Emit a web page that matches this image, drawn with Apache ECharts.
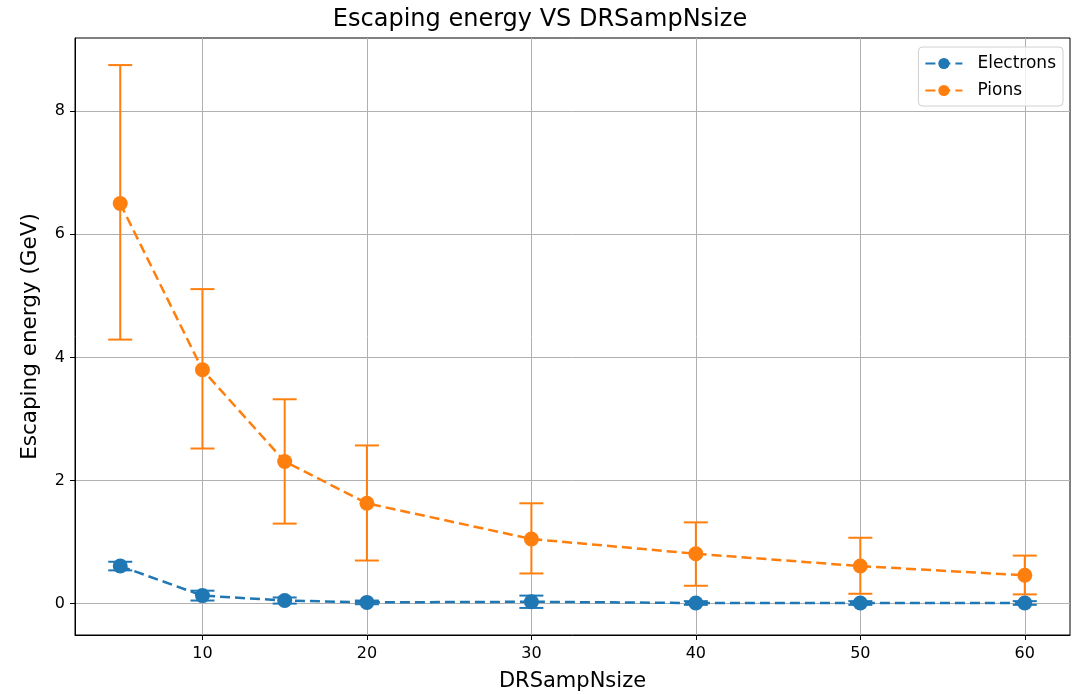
<!DOCTYPE html>
<html>
<head>
<meta charset="utf-8">
<script src="https://cdn.jsdelivr.net/npm/echarts@6/dist/echarts.min.js"></script>
<style>
html,body{margin:0;padding:0;background:#fff;}
#chart{width:1080px;height:694px;}
</style>
</head>
<body>
<div id="chart"></div>
<script>
const sizes = [5, 10, 15, 20, 30, 40, 50, 60];
const electrons = [0.61, 0.13, 0.05, 0.02, 0.03, 0.01, 0.01, 0.01];
const electronsErr = [0.07, 0.08, 0.05, 0.03, 0.10, 0.03, 0.03, 0.03];
const pions = [6.50, 3.80, 2.31, 1.63, 1.05, 0.81, 0.61, 0.46];
const pionsErrLow = [2.21, 1.28, 1.01, 0.93, 0.56, 0.52, 0.45, 0.31];
const pionsErrHigh = [2.25, 1.31, 1.01, 0.94, 0.58, 0.51, 0.46, 0.32];
const xTicks = [10, 20, 30, 40, 50, 60];
const yTicks = [0, 2, 4, 6, 8];

const BLUE = '#1f77b4', ORANGE = '#ff7f0e';
const FONT = 'DejaVu Sans';

function errData(vals, lo, hi) {
  return sizes.map((x, i) => [x, vals[i] - lo[i], vals[i] + hi[i]]);
}
function errSeries(name, data, color) {
  return {
    name: name, type: 'custom', z: 3,
    data: data,
    encode: {x: 0, y: [1, 2]},
    renderItem: function (params, api) {
      const x = api.value(0);
      const lo = api.coord([x, api.value(1)]);
      const hi = api.coord([x, api.value(2)]);
      const w = 12;
      const st = {stroke: color, lineWidth: 2};
      return {
        type: 'group',
        children: [
          {type: 'line', shape: {x1: lo[0], y1: lo[1], x2: hi[0], y2: hi[1]}, style: st},
          {type: 'line', shape: {x1: lo[0] - w, y1: lo[1], x2: lo[0] + w, y2: lo[1]}, style: st},
          {type: 'line', shape: {x1: hi[0] - w, y1: hi[1], x2: hi[0] + w, y2: hi[1]}, style: st}
        ]
      };
    }
  };
}
function lineSeries(name, vals, color, z) {
  return {
    name: name, type: 'line', z: z,
    data: sizes.map((x, i) => [x, vals[i]]),
    symbol: 'circle', symbolSize: 15,
    itemStyle: {color: color},
    lineStyle: {color: color, width: 2.5, type: [10, 5]},
    emphasis: {disabled: true},
    animation: false
  };
}

const chart = echarts.init(document.getElementById('chart'), null, {renderer: 'canvas'});
chart.setOption({
  animation: false,
  backgroundColor: '#fff',
  title: {
    text: 'Escaping energy VS DRSampNsize', left: 'center', top: 3,
    textStyle: {fontFamily: FONT, fontWeight: 'normal', fontSize: 24, color: '#000'}
  },
  legend: {
    data: ['Electrons', 'Pions'],
    orient: 'vertical', right: 17, top: 47,
    itemWidth: 37, itemHeight: 14, itemGap: 10,
    padding: [8, 7, 7, 6],
    borderColor: '#d0d0d0', borderWidth: 1, borderRadius: 4,
    backgroundColor: 'rgba(255,255,255,0.8)',
    textStyle: {fontFamily: FONT, fontSize: 17, color: '#000', padding: [0, 0, 0, 10]}
  },
  grid: {left: 75, right: 10, top: 38, bottom: 59, show: true, borderColor: '#000', borderWidth: 1,
         containLabel: false, outerBoundsMode: 'none'},
  xAxis: {
    type: 'value', min: 2.25, max: 62.75,
    name: 'DRSampNsize', nameLocation: 'middle', nameGap: 36,
    nameTextStyle: {fontFamily: FONT, fontSize: 21, color: '#000'},
    axisLine: {show: true, onZero: false, lineStyle: {color: '#000'}},
    axisTick: {show: true, length: 5, lineStyle: {color: '#000'}, customValues: xTicks},
    axisLabel: {fontFamily: FONT, fontSize: 16, color: '#000', margin: 11, customValues: xTicks},
    splitLine: {show: true, lineStyle: {color: '#b0b0b0', width: 1}}
  },
  yAxis: {
    type: 'value', min: -0.51, max: 9.19,
    name: 'Escaping energy (GeV)', nameLocation: 'middle', nameGap: 34,
    nameTextStyle: {fontFamily: FONT, fontSize: 21.5, color: '#000'},
    axisLine: {show: true, onZero: false, lineStyle: {color: '#000'}},
    axisTick: {show: true, length: 5, lineStyle: {color: '#000'}, customValues: yTicks},
    axisLabel: {fontFamily: FONT, fontSize: 16, color: '#000', margin: 10, customValues: yTicks},
    splitLine: {show: true, lineStyle: {color: '#b0b0b0', width: 1}}
  },
  series: [
    lineSeries('Electrons', electrons, BLUE, 4),
    errSeries('Electrons err', errData(electrons, electronsErr, electronsErr), BLUE),
    lineSeries('Pions', pions, ORANGE, 6),
    errSeries('Pions err', errData(pions, pionsErrLow, pionsErrHigh), ORANGE)
  ]
});
</script>
</body>
</html>
